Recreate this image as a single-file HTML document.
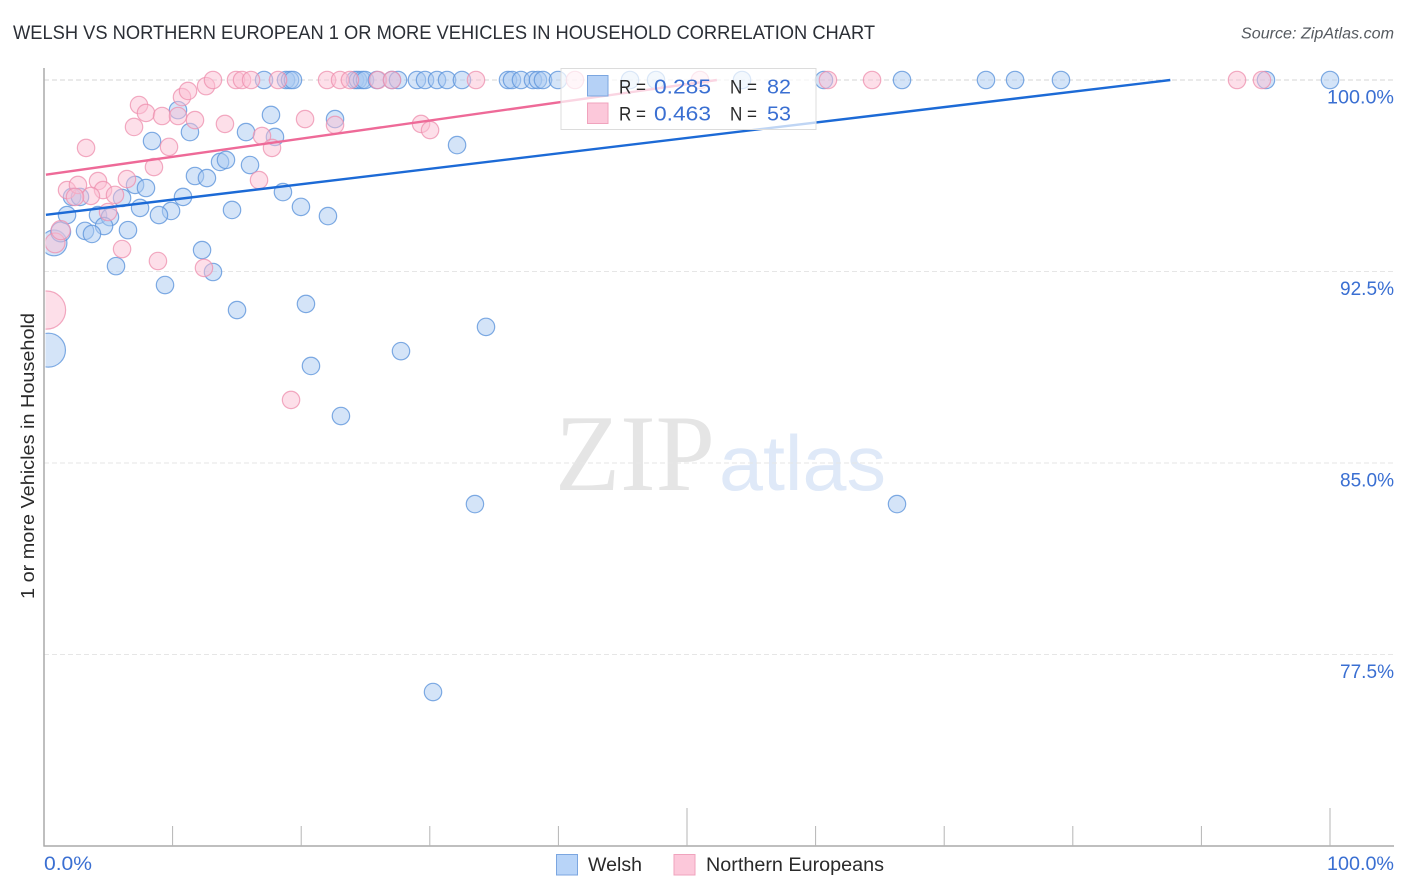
<!DOCTYPE html>
<html lang="en">
<head>
<meta charset="utf-8">
<title>Welsh vs Northern European 1 or more Vehicles in Household Correlation Chart</title>
<style>
html,body{margin:0;padding:0;background:#fff;}
svg{display:block;font-family:"Liberation Sans",sans-serif;}
</style>
</head>
<body>
<svg id="chart" xmlns="http://www.w3.org/2000/svg" width="1406" height="892" viewBox="0 0 1406 892">
  <defs>
    <clipPath id="plot-clip"><rect x="45.500" y="60" width="1348" height="786"/></clipPath>
  </defs>
  <rect x="0" y="0" width="1406" height="892" fill="#ffffff"/>
  <text x="13" y="39" font-size="19" fill="#2b2f36" textLength="862" lengthAdjust="spacingAndGlyphs">WELSH VS NORTHERN EUROPEAN 1 OR MORE VEHICLES IN HOUSEHOLD CORRELATION CHART</text>
  <text x="1394" y="38.500" text-anchor="end" font-size="15.500" font-style="italic" fill="#555a60" textLength="153" lengthAdjust="spacingAndGlyphs">Source: ZipAtlas.com</text>
  <text x="555" y="490" font-family="'Liberation Serif',serif" font-size="109" fill="#e5e5e5" textLength="160" lengthAdjust="spacingAndGlyphs">ZIP</text>
  <text x="719" y="490" font-size="78" fill="#dfe9f8" textLength="167" lengthAdjust="spacingAndGlyphs">atlas</text>
  <g id="grid"></g>
  <g id="welsh-points" clip-path="url(#plot-clip)"></g>
  <g id="pink-points" clip-path="url(#plot-clip)"></g>
  <g id="axes"></g>
  <g id="trends"></g>
  <g>
    <rect x="561" y="68.500" width="255" height="61" fill="#ffffff" fill-opacity="0.72" stroke="#dcdcdc" stroke-width="1"/>
    <rect x="587.500" y="75.500" width="20.500" height="20.500" fill="#b5d1f6" stroke="#7ba6e0" stroke-width="1"/>
    <rect x="587.500" y="103" width="20.500" height="20.500" fill="#fcc8da" stroke="#f0a3bd" stroke-width="1"/>
    <text x="619" y="93.500" font-size="19.500" fill="#2a2a2a" textLength="27" lengthAdjust="spacingAndGlyphs">R =</text>
    <text x="654" y="93.500" font-size="20.500" fill="#3a6fd2" textLength="57" lengthAdjust="spacingAndGlyphs">0.285</text>
    <text x="730" y="93.500" font-size="19.500" fill="#2a2a2a" textLength="27" lengthAdjust="spacingAndGlyphs">N =</text>
    <text x="767" y="93.500" font-size="20.500" fill="#3a6fd2" textLength="24" lengthAdjust="spacingAndGlyphs">82</text>
    <text x="619" y="120.500" font-size="19.500" fill="#2a2a2a" textLength="27" lengthAdjust="spacingAndGlyphs">R =</text>
    <text x="654" y="120.500" font-size="20.500" fill="#3a6fd2" textLength="57" lengthAdjust="spacingAndGlyphs">0.463</text>
    <text x="730" y="120.500" font-size="19.500" fill="#2a2a2a" textLength="27" lengthAdjust="spacingAndGlyphs">N =</text>
    <text x="767" y="120.500" font-size="20.500" fill="#3a6fd2" textLength="24" lengthAdjust="spacingAndGlyphs">53</text>
  </g>
  <text transform="translate(34 456) rotate(-90)" text-anchor="middle" font-size="18.500" fill="#2a2a2a" textLength="286" lengthAdjust="spacingAndGlyphs">1 or more Vehicles in Household</text>
  <g>
    <rect x="556.500" y="854.500" width="21" height="20.500" fill="#b8d4f8" stroke="#7ba6e0" stroke-width="1"/>
    <text x="588" y="871" font-size="19" fill="#2a2a2a" textLength="54" lengthAdjust="spacingAndGlyphs">Welsh</text>
    <rect x="674" y="854.500" width="21" height="20.500" fill="#fcc8da" stroke="#f0a3bd" stroke-width="1"/>
    <text x="706" y="871" font-size="19" fill="#2a2a2a" textLength="178" lengthAdjust="spacingAndGlyphs">Northern Europeans</text>
  </g>
</svg>
<script>
const yTicks = [100, 92.5, 85, 77.5];
const yTickLabels = ["100.0%", "92.5%", "85.0%", "77.5%"];
const xTicks = [10, 20, 30, 40, 50, 60, 70, 80, 90, 100];
const xMajorTicks = [50, 100];
const xEdgeTicks = [0, 100];
const xEdgeLabels = ["0.0%", "100.0%"];

/* Welsh series: percent of population (x) vs. share with 1+ vehicles (y). First entries carry the larger weights. */
const welshX = [0.35,0.78,1.30,10.42,17.65,22.63,11.35,15.71,17.96,8.40,32.12,13.69,14.15,16.02,11.74,12.67,7.08,7.93,18.58,2.18,2.80,6.07,10.81,7.47,19.98,14.62,9.88,8.94,1.79,4.20,5.13,22.08,4.67,3.19,3.73,6.53,12.29,5.60,13.14,9.41,20.37,15.01,34.37,27.76,20.76,23.09,33.51,66.33,30.25,17.11,18.82,19.13,19.36,24.18,24.42,24.73,24.96,25.89,27.06,27.53,29.00,29.63,30.56,31.34,32.50,36.08,36.39,37.09,38.02,38.41,38.80,39.97,45.57,47.59,54.28,60.65,66.72,73.25,75.51,79.08,95.02,100];
const welshY = [89.42,93.62,94.05,98.82,98.63,98.47,97.96,97.96,97.77,97.61,97.45,96.79,96.87,96.67,96.24,96.16,95.89,95.77,95.61,95.42,95.42,95.38,95.42,94.99,95.03,94.91,94.87,94.71,94.71,94.71,94.63,94.67,94.28,94.09,93.97,94.12,93.34,92.71,92.48,91.97,91.23,90.99,90.33,89.38,88.80,86.84,83.39,83.39,76.03,100,100,100,100,100,100,100,100,100,100,100,100,100,100,100,100,100,100,100,100,100,100,100,100,100,100,100,100,100,100,100,100,100];
const welshWeight = [3.8,2.2,1.3];

/* Northern Europeans series */
const pinkX = [0.20,0.86,1.30,10.73,11.20,12.60,7.39,7.93,9.18,10.42,7.00,11.74,14.07,9.72,3.27,16.95,17.73,20.30,22.63,29.32,30.02,8.55,6.45,16.72,1.79,2.64,4.20,4.59,3.65,5.52,2.41,4.98,6.07,8.86,12.44,19.21,13.14,14.93,15.40,16.10,18.20,22.01,23.02,23.79,25.97,27.06,33.59,41.29,51.01,60.96,64.39,92.77,94.71];
const pinkY = [90.99,93.62,94.12,99.33,99.57,99.76,99.02,98.71,98.59,98.59,98.16,98.43,98.28,97.38,97.34,97.81,97.34,98.47,98.24,98.28,98.04,96.59,96.12,96.08,95.69,95.89,96.04,95.69,95.46,95.50,95.42,94.83,93.38,92.91,92.64,87.47,100,100,100,100,100,100,100,100,100,100,100,100,100,100,100,100,100];
const pinkWeight = [4.8,1.3,1.2];

/* Trend line: value at x=0 and slope per x unit */
const welshTrend = [94.71, 0.0604];
const pinkTrend = [96.28, 0.0711];

const NS = "http://www.w3.org/2000/svg";
function xScale(v){ return 44 + v * 12.86; }
function yScale(v){ return 80 + (100 - v) * 25.533; }
function make(parent, tag, attrs){
  const el = document.createElementNS(NS, tag);
  for (const k in attrs) el.setAttribute(k, attrs[k]);
  parent.appendChild(el);
  return el;
}

const grid = document.getElementById("grid");
const axes = document.getElementById("axes");
const welshGroup = document.getElementById("welsh-points");
const pinkGroup = document.getElementById("pink-points");
const trends = document.getElementById("trends");
const svgRoot = document.getElementById("chart");

yTicks.forEach(function(t, i){
  const line = make(grid, "line", {x1: 44, x2: 1394, y1: yScale(t), y2: yScale(t), stroke: i === 0 ? "#d4d4d4" : "#e6e6e6", "stroke-width": 1, "stroke-dasharray": "5 3"});
  
  
  const label = make(svgRoot, "text", {x: 1394, y: yScale(t) + 23.5, "text-anchor": "end", "font-size": 19, fill: "#3a6fd2", textLength: yTickLabels[i].length === 6 ? 67 : 54, lengthAdjust: "spacingAndGlyphs"});
  label.textContent = yTickLabels[i];
  
  
});

const axisY = make(axes, "line", {x1: 44, x2: 44, y1: 68, y2: 846.5, stroke: "#aaaaaa", "stroke-width": 1.5});


const axisX = make(axes, "line", {x1: 43.5, x2: 1394, y1: 846, y2: 846, stroke: "#aaaaaa", "stroke-width": 1.5});



xTicks.forEach(function(t){
  const top = xMajorTicks.indexOf(t) >= 0 ? 808 : 826;
  const tick = make(axes, "line", {x1: xScale(t), x2: xScale(t), y1: top, y2: 846, stroke: "#b5b5b5", "stroke-width": 1});
  
  
});

xEdgeTicks.forEach(function(t, i){
  const label = make(svgRoot, "text", {x: i === 0 ? 44 : 1394, y: 870, "text-anchor": i === 0 ? "start" : "end", "font-size": 19, fill: "#3a6fd2", textLength: i === 0 ? 48 : 67, lengthAdjust: "spacingAndGlyphs"});
  label.textContent = xEdgeLabels[i];
  
  
});

welshX.forEach(function(v, i){
  const r = 8.7 * Math.sqrt(welshWeight[i] || 1);
  const c = make(welshGroup, "circle", {cx: xScale(v), cy: yScale(welshY[i]), r: r, fill: "#a9c9f2", "fill-opacity": 0.5, stroke: "#5f96dc", "stroke-opacity": 0.8, "stroke-width": 1.2});
  
  
});

pinkX.forEach(function(v, i){
  const r = 8.7 * Math.sqrt(pinkWeight[i] || 1);
  const c = make(pinkGroup, "circle", {cx: xScale(v), cy: yScale(pinkY[i]), r: r, fill: "#fbc0d4", "fill-opacity": 0.5, stroke: "#ee8fae", "stroke-opacity": 0.75, "stroke-width": 1.2});
  
  
});

function trendPath(trend){
  const xEnd = Math.min(100, (100 - trend[0]) / trend[1]);
  return "M" + xScale(0.15) + " " + yScale(trend[0] + trend[1] * 0.15) + " L" + xScale(xEnd) + " " + yScale(trend[0] + trend[1] * xEnd);
}
const welshLine = make(trends, "path", {d: trendPath(welshTrend), fill: "none", stroke: "#1c6ad6", "stroke-width": 2.4});


const pinkLine = make(trends, "path", {d: trendPath(pinkTrend), fill: "none", stroke: "#ee6a98", "stroke-width": 2.4});


</script>
</body>
</html>
